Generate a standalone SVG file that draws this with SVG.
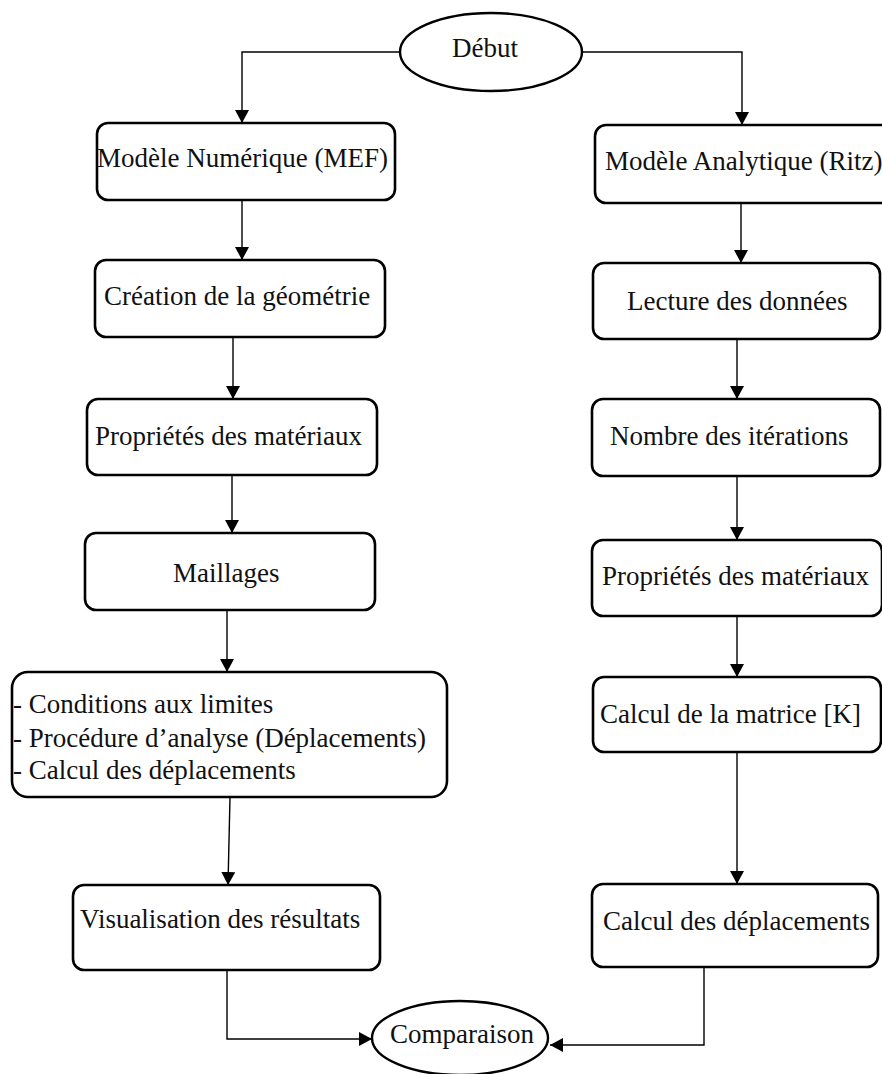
<svg xmlns="http://www.w3.org/2000/svg" width="882" height="1074" viewBox="0 0 882 1074">
  <defs>
    <marker id="arrow" markerWidth="14" markerHeight="14" refX="13" refY="7" orient="auto" markerUnits="userSpaceOnUse">
      <path d="M0,0 L13,7 L0,14 Z" fill="#000"/>
    </marker>
    <style>
      .box { fill: #fff; stroke: #000; stroke-width: 2.6; }
      .term { fill: #fff; stroke: #000; stroke-width: 2.4; }
      .label { font-family: "Liberation Serif", "Times New Roman", serif; font-size: 27px; fill: #111; }
      .link { fill: none; stroke: #000; stroke-width: 1.4; marker-end: url(#arrow); }
    </style>
  </defs>
  <rect width="882" height="1074" fill="#fff"/>

  <!-- connectors -->
  <g id="connectors">
    <path class="link" d="M400,52 H242 V123"/>
    <path class="link" d="M582,52 H742 V125"/>
    <path class="link" d="M242,200 V260"/>
    <path class="link" d="M233,337 V399"/>
    <path class="link" d="M232,475 V533"/>
    <path class="link" d="M227,610 V672"/>
    <path class="link" d="M230,797 L228,885"/>
    <path class="link" d="M227,970 V1039 H372"/>
    <path class="link" d="M741,203 V263"/>
    <path class="link" d="M737,339 V399"/>
    <path class="link" d="M737,476 V540"/>
    <path class="link" d="M737,616 V677"/>
    <path class="link" d="M737,752 V884"/>
    <path class="link" d="M704,967 V1045 H550"/>
  </g>

  <!-- start -->
  <g id="debut">
    <ellipse class="term" cx="491" cy="52" rx="91" ry="39"/>
    <text class="label" x="452" y="57">Début</text>
  </g>

  <!-- numerical branch (FEM) -->
  <g id="mef">
    <rect class="box" x="97" y="123" width="298" height="77" rx="11"/>
    <text class="label" x="97" y="167">Modèle Numérique (MEF)</text>
  </g>
  <g id="geometrie">
    <rect class="box" x="95" y="260" width="290" height="77" rx="11"/>
    <text class="label" x="104" y="305">Création de la géométrie</text>
  </g>
  <g id="materiaux-mef">
    <rect class="box" x="87" y="399" width="290" height="76" rx="11"/>
    <text class="label" x="95" y="445">Propriétés des matériaux</text>
  </g>
  <g id="maillages">
    <rect class="box" x="85" y="533" width="290" height="77" rx="11"/>
    <text class="label" x="173" y="582">Maillages</text>
  </g>
  <g id="analyse">
    <rect class="box" x="12" y="672" width="435" height="125" rx="16"/>
    <text class="label" x="13" y="713">- Conditions aux limites</text>
    <text class="label" x="13" y="747">- Procédure d’analyse (Déplacements)</text>
    <text class="label" x="13" y="779">- Calcul des déplacements</text>
  </g>
  <g id="visualisation">
    <rect class="box" x="73" y="885" width="307" height="85" rx="11"/>
    <text class="label" x="80" y="928">Visualisation des résultats</text>
  </g>

  <!-- analytical branch (Ritz) -->
  <g id="ritz">
    <rect class="box" x="595" y="125" width="300" height="78" rx="11"/>
    <text class="label" x="605" y="170">Modèle Analytique (Ritz)</text>
  </g>
  <g id="lecture">
    <rect class="box" x="593" y="263" width="287" height="76" rx="11"/>
    <text class="label" x="627" y="310">Lecture des données</text>
  </g>
  <g id="iterations">
    <rect class="box" x="592" y="399" width="288" height="77" rx="11"/>
    <text class="label" x="610" y="445">Nombre des itérations</text>
  </g>
  <g id="materiaux-ritz">
    <rect class="box" x="592" y="540" width="290" height="76" rx="11"/>
    <text class="label" x="602" y="585">Propriétés des matériaux</text>
  </g>
  <g id="matrice">
    <rect class="box" x="593" y="677" width="288" height="75" rx="11"/>
    <text class="label" x="600" y="723">Calcul de la matrice [K]</text>
  </g>
  <g id="deplacements">
    <rect class="box" x="592" y="884" width="286" height="83" rx="11"/>
    <text class="label" x="603" y="930">Calcul des déplacements</text>
  </g>

  <!-- end -->
  <g id="comparaison">
    <ellipse class="term" cx="460" cy="1038" rx="88" ry="37"/>
    <text class="label" x="390" y="1043">Comparaison</text>
  </g>
</svg>
